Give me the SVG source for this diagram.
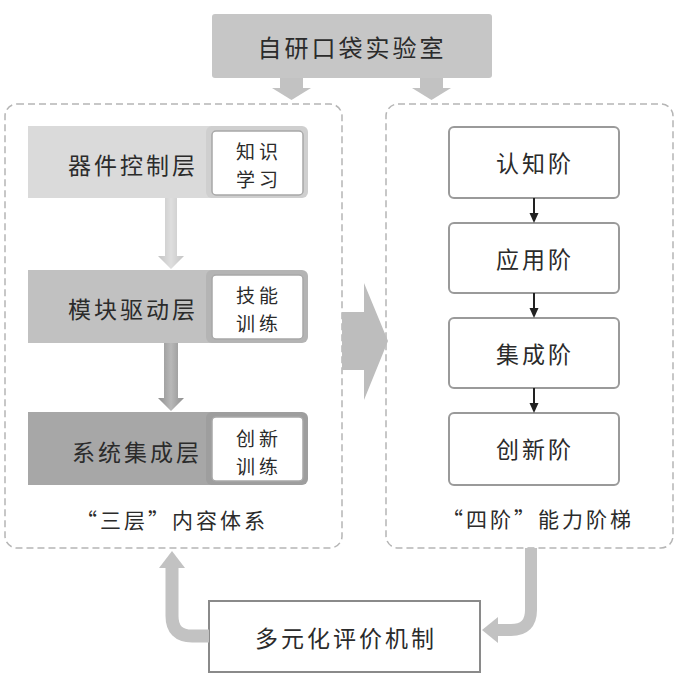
<svg xmlns="http://www.w3.org/2000/svg" width="675" height="678" viewBox="0 0 675 678">
<defs>
<style>
.t{font-family:"Noto Sans CJK SC","Noto Sans",sans-serif;fill:#2b2b2b;text-anchor:middle;dominant-baseline:central}
.big{font-size:23px;letter-spacing:3px}
.sm{font-size:21px;letter-spacing:3px}
.two{font-size:19px;letter-spacing:4px}
.dash{fill:none;stroke:#b5b5b5;stroke-width:1.5;stroke-dasharray:7 4}
.stage{fill:#fff;stroke:#9a9a9a;stroke-width:2}
.inner{fill:#fff;stroke:#a8a8a8;stroke-width:1.5}
.garrow{fill:#c2c2c2}
.sa{stroke:#222;stroke-width:2}
.sh{fill:#222}
</style>
<linearGradient id="g1" x1="0" y1="0" x2="1" y2="0">
<stop offset="0" stop-color="#c4c4c4"/><stop offset="0.5" stop-color="#dedede"/><stop offset="1" stop-color="#c4c4c4"/>
</linearGradient>
<linearGradient id="g2" x1="0" y1="0" x2="1" y2="0">
<stop offset="0" stop-color="#8f8f8f"/><stop offset="0.5" stop-color="#b8b8b8"/><stop offset="1" stop-color="#8f8f8f"/>
</linearGradient>
</defs>

<g id="lab">
<rect x="212" y="14" width="280" height="64" rx="3" fill="#c6c6c6"/>
<text class="t" x="352" y="46" style="font-size:24px;letter-spacing:3px">自研口袋实验室</text>
</g>

<g id="left-container">
<rect class="dash" x="5" y="104" width="337" height="444" rx="12"/>
<text class="t sm" x="172" y="519">“三层”内容体系</text>
</g>

<g id="right-container">
<rect class="dash" x="386" y="104" width="287" height="444" rx="12"/>
<text class="t sm" x="538" y="518">“四阶”能力阶梯</text>
</g>

<g id="layer1">
<rect x="28" y="126" width="184" height="72" fill="#dadada"/>
<rect x="206" y="126" width="102" height="72" rx="6" fill="#cfcfcf"/>
<rect class="inner" x="212" y="131" width="91" height="64" rx="4"/>
<text class="t big" x="133" y="164">器件控制层</text>
<text class="t two" x="259" y="150">知识</text>
<text class="t two" x="259" y="178">学习</text>
</g>

<g id="layer2">
<rect x="28" y="270" width="184" height="73" fill="#c1c1c1"/>
<rect x="206" y="270" width="102" height="73" rx="6" fill="#b4b4b4"/>
<rect class="inner" x="212" y="275" width="91" height="64" rx="4"/>
<text class="t big" x="133" y="308">模块驱动层</text>
<text class="t two" x="259" y="294">技能</text>
<text class="t two" x="259" y="322">训练</text>
</g>

<g id="layer3">
<rect x="28" y="412" width="184" height="73" fill="#a7a7a7"/>
<rect x="206" y="412" width="102" height="73" rx="6" fill="#9e9e9e"/>
<rect class="inner" x="212" y="417" width="91" height="64" rx="4"/>
<text class="t big" x="137" y="451">系统集成层</text>
<text class="t two" x="259" y="437">创新</text>
<text class="t two" x="259" y="465">训练</text>
</g>

<g id="stage1"><rect class="stage" x="449" y="127" width="170" height="71" rx="5"/><text class="t big" x="535" y="162">认知阶</text></g>
<g id="stage2"><rect class="stage" x="449" y="223" width="170" height="70" rx="5"/><text class="t big" x="535" y="258">应用阶</text></g>
<g id="stage3"><rect class="stage" x="449" y="318" width="170" height="70" rx="5"/><text class="t big" x="535" y="353">集成阶</text></g>
<g id="stage4"><rect class="stage" x="449" y="413" width="170" height="72" rx="5"/><text class="t big" x="535" y="448">创新阶</text></g>

<g id="evaluation">
<rect x="209" y="601" width="271" height="71" fill="#fff" stroke="#8a8a8a" stroke-width="2"/>
<text class="t big" x="346" y="637">多元化评价机制</text>
</g>

<g id="connectors">
<path class="garrow" d="M280,78 H303 V88 H311 L291.5,100 L272,88 H280 Z"/>
<path class="garrow" d="M420,78 H443 V88 H451 L431.5,100 L412,88 H420 Z"/>
<path d="M165,198 H177 V256 H184 L171,269 L158,256 H165 Z" fill="url(#g1)"/>
<path d="M164,343 H178 V398 H184 L171,411 L158,398 H164 Z" fill="url(#g2)"/>
<path d="M342,312 H364 V283 L388,341 L364,400 V370 H342 Z" fill="#bdbdbd"/>
<line class="sa" x1="534" y1="198" x2="534" y2="214"/><path class="sh" d="M529.5,213 H538.5 L534,223 Z"/>
<line class="sa" x1="534" y1="293" x2="534" y2="309"/><path class="sh" d="M529.5,308 H538.5 L534,318 Z"/>
<line class="sa" x1="534" y1="388" x2="534" y2="404"/><path class="sh" d="M529.5,403 H538.5 L534,413 Z"/>
<path d="M209,636 H192 Q172,636 172,616 V566" fill="none" stroke="#c2c2c2" stroke-width="13"/>
<path class="garrow" d="M159,568 L172,551 L185,568 Z"/>
<path d="M531,548 V610 Q531,630 511,630 H496" fill="none" stroke="#c2c2c2" stroke-width="12"/>
<path class="garrow" d="M498,617 L482,630 L498,643 Z"/>
</g>
</svg>
